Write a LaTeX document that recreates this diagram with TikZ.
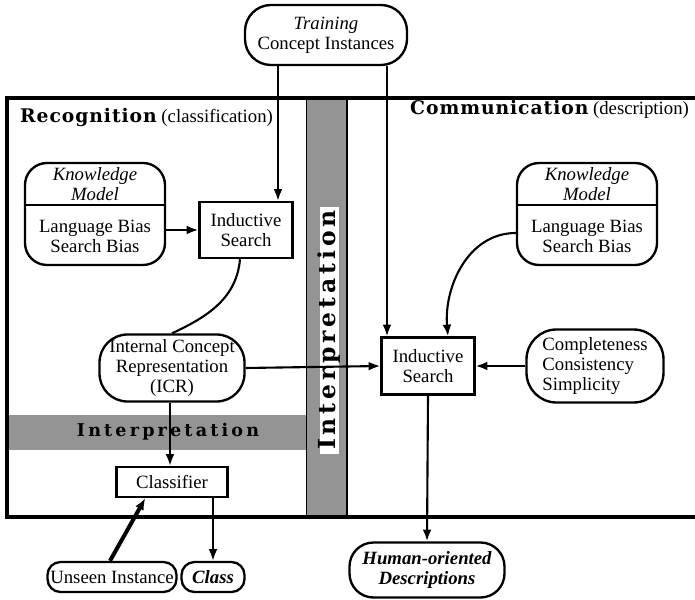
\documentclass[tikz,border=0pt]{standalone}
\usepackage{fontspec}
\setmainfont{Liberation Serif}
\newfontfamily\slabfont{DejaVu Serif}
\usetikzlibrary{arrows.meta}
\newlength{\pxu}
\setlength{\pxu}{0.03cm}

\begin{document}
\begin{tikzpicture}[x=0.03cm, y=-0.03cm,
    every node/.style={font=\fontsize{16}{17}\selectfont, align=center},
    sbox/.style={draw, line width=2pt, fill=white, inner sep=0pt},
    rbox/.style={sbox, rounded corners=#1},
    arr/.style={line width=1.8pt, -{Latex[length=10pt,width=7.5pt]}},
    band/.style={fill=black!42, draw=none},
    ttl/.style={font={\slabfont\fontsize{15}{17}\selectfont\bfseries\addfontfeature{LetterSpace=18}}, inner sep=0pt}]

  \useasboundingbox (0,0) rectangle (695,600);

  % interpretation bands
  \fill[band] (306,98) rectangle (347,517);
  \fill[band] (7,415) rectangle (306,450);
  \fill[white] (320,207) rectangle (339,454);
  \draw[line width=0.6pt] (306,98) -- (306,517);
  \draw[line width=2.4pt] (347,98) -- (347,517);
  \node[ttl, rotate=90, font={\slabfont\fontsize{20}{21}\selectfont\bfseries\addfontfeature{LetterSpace=17}}] (vint) at (329.5,330) {Interpretation};
  \node[ttl] (hint) at (168,432) {Interpretation};

  % frame
  \draw[line width=3pt] (695,98) -- (7,98) -- (7,517) -- (695,517);
  \node[anchor=base west, inner sep=0pt] (rec) at (20,123)
    {{\slabfont\fontsize{16}{17}\selectfont\bfseries\addfontfeature{LetterSpace=5}Recognition} (classification)};
  \node[anchor=base west, inner sep=0pt] (com) at (410,115)
    {{\slabfont\fontsize{16}{17}\selectfont\bfseries\addfontfeature{LetterSpace=5}Communication} (description)};

  % boxes
  \node[rbox=26\pxu, minimum width=162\pxu, minimum height=60\pxu] (train) at (326,35) {\textit{Training}\\Concept Instances};

  \node[rbox=22\pxu, minimum width=140\pxu, minimum height=102\pxu] (kmL) at (95,214) {};
  \node[font=\fontsize{16}{17}\selectfont\itshape] (kmLhead) at (95,184) {Knowledge\\Model};
  \node (kmLbody) at (95,236) {Language Bias\\Search Bias};
  \draw[line width=2pt] (kmL.west |- 0,205) -- (kmL.east |- 0,205);

  \node[rbox=22\pxu, minimum width=140\pxu, minimum height=102\pxu] (kmR) at (587,214) {};
  \node[font=\fontsize{16}{17}\selectfont\itshape] (kmRhead) at (587,184) {Knowledge\\Model};
  \node (kmRbody) at (587,236) {Language Bias\\Search Bias};
  \draw[line width=2pt] (kmR.west |- 0,205) -- (kmR.east |- 0,205);

  \node[sbox, minimum width=93\pxu, minimum height=56\pxu] (isL) at (246,230) {Inductive\\Search};
  \node[sbox, minimum width=93\pxu, minimum height=57\pxu] (isR) at (428,366) {Inductive\\Search};
  \node[rbox=28\pxu, minimum width=145\pxu, minimum height=67\pxu] (icr) at (172,368) {Internal Concept\\Representation\\(ICR)};
  \node[rbox=30\pxu, minimum width=137\pxu, minimum height=73\pxu, align=left] (compl) at (595,366) {Completeness\\Consistency\\Simplicity};
  \node[sbox, minimum width=111\pxu, minimum height=30\pxu] (cls) at (172,482) {Classifier};
  \node[rbox=13\pxu, minimum width=129\pxu, minimum height=30\pxu] (unseen) at (112,577) {Unseen Instance};
  \node[rbox=13\pxu, minimum width=63\pxu, minimum height=30\pxu, font=\fontsize{16}{17}\selectfont\bfseries\itshape] (klass) at (213,577) {Class};
  \node[rbox=24\pxu, minimum width=155\pxu, minimum height=55\pxu, font=\fontsize{16}{17}\selectfont\bfseries\itshape] (human) at (427,570) {Human-oriented\\Descriptions};

  % connectors
  \draw[arr] (train.south -| 278,0) -- (isL.north -| 278,0);
  \draw[arr] (train.south -| 387,0) -- (isR.north -| 387,0);
  \draw[arr] (kmL.east |- isL.west) -- (isL.west);
  \draw[line width=1.8pt] (isL.south -| 240,0) to[out=-95,in=25] (icr.north);
  \draw[arr] (icr.east) -- (isR.west);
  \draw[arr] (icr.south -| 170,0) -- (cls.north -| 170,0);
  \draw[arr] ([yshift=-19\pxu]kmR.west) to[out=180,in=95] (isR.north -| 448,0);
  \draw[arr] (compl.west) -- (isR.east);
  \draw[arr] (isR.south) -- (human.north);
  \draw[line width=3.4pt, -{Latex[length=10pt,width=8pt]}] (unseen.north -| 110,0) -- ([xshift=30\pxu]cls.south west);
  \draw[arr] (cls.south -| klass.north) -- (klass.north);

\end{tikzpicture}
\end{document}
